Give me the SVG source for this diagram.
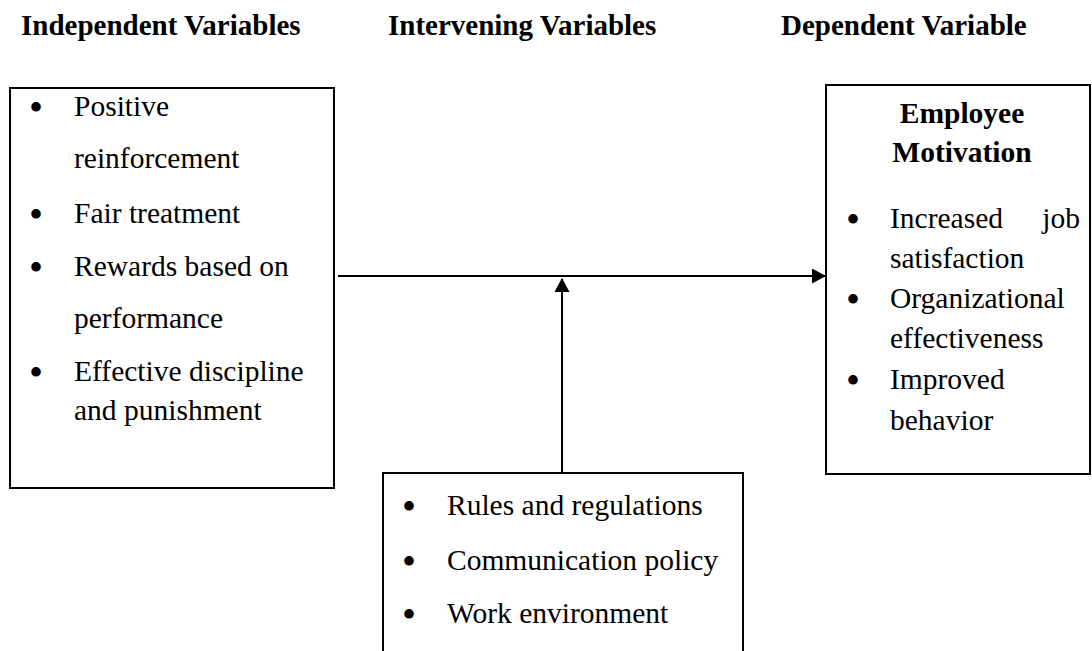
<svg xmlns="http://www.w3.org/2000/svg" width="1092" height="651" viewBox="0 0 1092 651">
<style>
.hd{font-family:"Liberation Serif","Times New Roman",serif;font-weight:bold;font-size:29px;fill:#000}
.tx{font-family:"Liberation Serif","Times New Roman",serif;font-size:29.5px;fill:#000}
.bu{font-family:"Liberation Serif","Times New Roman",serif;font-size:40px;fill:#000;text-anchor:middle}
.bt{font-family:"Liberation Serif","Times New Roman",serif;font-weight:bold;font-size:29.5px;fill:#000}
.box{fill:#fff;stroke:#000;stroke-width:2}
.ln{stroke:#000;stroke-width:2;fill:none}
</style>
<defs>
<marker id="ah" markerWidth="14" markerHeight="15" refX="13" refY="7.5" orient="auto" markerUnits="userSpaceOnUse">
<path d="M0,0 L14,7.5 L0,15 Z" fill="#000"/>
</marker>
</defs>
<rect width="1092" height="651" fill="#fff"/>
<g id="headers">
<text class="hd" x="21" y="35">Independent Variables</text>
<text class="hd" x="388" y="35">Intervening Variables</text>
<text class="hd" x="781" y="35">Dependent Variable</text>
</g>
<g id="independent">
<rect class="box" x="10" y="88" width="324" height="400"/>
<text class="bu" x="36" y="121">•</text><text class="tx" x="74" y="116">Positive</text>
<text class="tx" x="74" y="168">reinforcement</text>
<text class="bu" x="36" y="228">•</text><text class="tx" x="74" y="223">Fair treatment</text>
<text class="bu" x="36" y="281">•</text><text class="tx" x="74" y="276">Rewards based on</text>
<text class="tx" x="74" y="328">performance</text>
<text class="bu" x="36" y="386">•</text><text class="tx" x="74" y="381">Effective discipline</text>
<text class="tx" x="74" y="420">and punishment</text>
</g>
<g id="dependent">
<rect class="box" x="826" y="85" width="264" height="389"/>
<text class="bt" x="962" y="123" text-anchor="middle">Employee</text>
<text class="bt" x="962" y="162" text-anchor="middle">Motivation</text>
<text class="bu" x="853" y="233">•</text><text class="tx" x="890" y="228">Increased</text><text class="tx" x="1080" y="228" text-anchor="end">job</text>
<text class="tx" x="890" y="268">satisfaction</text>
<text class="bu" x="853" y="313">•</text><text class="tx" x="890" y="308">Organizational</text>
<text class="tx" x="890" y="348">effectiveness</text>
<text class="bu" x="853" y="394">•</text><text class="tx" x="890" y="389">Improved</text>
<text class="tx" x="890" y="430">behavior</text>
</g>
<g id="intervening">
<rect class="box" x="383" y="473" width="360" height="190"/>
<text class="bu" x="409" y="520">•</text><text class="tx" x="447" y="515">Rules and regulations</text>
<text class="bu" x="409" y="575">•</text><text class="tx" x="447" y="570">Communication policy</text>
<text class="bu" x="409" y="628">•</text><text class="tx" x="447" y="623">Work environment</text>
</g>
<g id="connectors">
<line class="ln" x1="338" y1="276" x2="825" y2="276" marker-end="url(#ah)"/>
<line class="ln" x1="562" y1="473" x2="562" y2="279" marker-end="url(#ah)"/>
</g>
</svg>
